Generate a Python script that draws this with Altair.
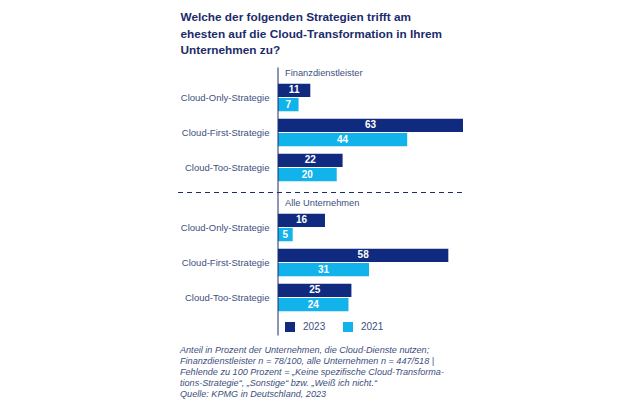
import altair as alt
import pandas as pd

strategies = ["Cloud-Only-Strategie", "Cloud-First-Strategie", "Cloud-Too-Strategie"]
years = ["2023", "2021"]
fin_2023 = [11, 63, 22]
fin_2021 = [7, 44, 20]
all_2023 = [16, 58, 25]
all_2021 = [5, 31, 24]

title_lines = [
    "Welche der folgenden Strategien trifft am",
    "ehesten auf die Cloud-Transformation in Ihrem",
    "Unternehmen zu?",
]
footnote_lines = [
    "Anteil in Prozent der Unternehmen, die Cloud-Dienste nutzen;",
    "Finanzdienstleister n = 78/100, alle Unternehmen n = 447/518 |",
    "Fehlende zu 100 Prozent = „Keine spezifische Cloud-Transforma-",
    "tions-Strategie“, „Sonstige“ bzw. „Weiß ich nicht.“",
    "Quelle: KPMG in Deutschland, 2023",
]

DARK = "#0f2a7e"
LIGHT = "#12b2ea"
NAVY = "#1c2b6b"
GREY = "#3e4f7e"
FONT = "Liberation Sans"
W, H = 185, 105


def make_df(v23, v21):
    rows = []
    for s, a, b in zip(strategies, v23, v21):
        rows.append({"strategy": s, "year": "2023", "value": a})
        rows.append({"strategy": s, "year": "2021", "value": b})
    df = pd.DataFrame(rows)
    df["mid"] = df["value"] / 2
    return df


one = pd.DataFrame({"k": [0]})


def panel(df, header, legend, rule_bottom, dashed):
    base = alt.Chart(df)
    y = alt.Y(
        "strategy:N",
        sort=strategies,
        scale=alt.Scale(paddingInner=0.214, paddingOuter=0.107),
        axis=alt.Axis(
            title=None, domain=False, ticks=False, labelPadding=9,
            labelFontSize=9.5, labelColor=GREY, labelFont=FONT,
        ),
    )
    yoff = alt.YOffset("year:N", sort=years, scale=alt.Scale(paddingInner=0.06))
    x = alt.X("value:Q", scale=alt.Scale(domain=[0, 63], nice=False), axis=None)
    bars = base.mark_bar().encode(
        x=x, y=y, yOffset=yoff,
        color=alt.Color("year:N", sort=years,
                        scale=alt.Scale(domain=years, range=[DARK, LIGHT]),
                        legend=legend),
    )
    labels = base.mark_text(color="white", fontWeight="bold", fontSize=10, font=FONT).encode(
        x=alt.X("mid:Q"), y=y, yOffset=yoff, text="value:Q"
    )
    deco = alt.Chart(one)
    axis_rule = deco.mark_rule(color=NAVY, strokeWidth=1).encode(
        x=alt.value(0), y=alt.value(-12.5), y2=alt.value(rule_bottom)
    )
    head = deco.mark_text(align="left", baseline="middle", fontSize=9.3, color=GREY, font=FONT).encode(
        x=alt.value(7), y=alt.value(-7.5), text=alt.value(header)
    )
    layers = [bars, labels, axis_rule, head]
    if dashed:
        sep = deco.mark_rule(color=NAVY, strokeWidth=1, strokeDash=[5, 4]).encode(
            x=alt.value(-100), x2=alt.value(W), y=alt.value(-17.5)
        )
        foot = deco.mark_text(
            align="left", baseline="alphabetic", fontSize=9.1, fontStyle="italic",
            lineHeight=11.2, color=GREY, font=FONT, text=footnote_lines,
        ).encode(x=alt.value(-98), y=alt.value(142.5))
        layers += [sep, foot]
    return alt.layer(*layers).properties(width=W, height=H)


leg = alt.Legend(
    title=None, orient="none", legendX=7, legendY=112, direction="horizontal",
    symbolType="square", symbolSize=100, symbolStrokeWidth=0, labelFontSize=10,
    labelColor=GREY, labelFont=FONT, labelOffset=8, columnPadding=17, padding=0,
)

p1 = panel(make_df(fin_2023, fin_2021), "Finanzdienstleister", None, 117.5, False)
p2 = panel(make_df(all_2023, all_2021), "Alle Unternehmen", leg, 125.5, True)

chart = (
    alt.vconcat(p1, p2, spacing=25, bounds="flush")
    .resolve_scale(color="independent")
    .properties(
        title=alt.TitleParams(
            text=title_lines, anchor="start", fontSize=11.8, fontWeight="bold",
            color=NAVY, font=FONT, lineHeight=16.5, offset=10, dx=3,
        ),
        padding={"left": 169, "top": 4, "right": 5, "bottom": 5},
    )
    .configure_view(stroke=None)
)

chart.save("out.html", embed_options={"renderer": "svg", "actions": False})
